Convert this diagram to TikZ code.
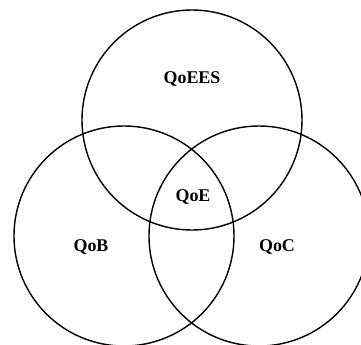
\documentclass[tikz,border=0pt]{standalone}
\usepackage{fontspec}
\setmainfont{Liberation Serif}
\begin{document}
\begin{tikzpicture}[x=1bp,y=-1bp,
    set/.style={line width=1.4bp},
    setlabel/.style={font=\fontsize{18}{20}\selectfont\bfseries}]
            \useasboundingbox (0,0) rectangle (361,345);
            \coordinate (E) at (192, 120);
            \coordinate (B) at (124, 236);
            \coordinate (C) at (259, 236);
            \draw[set] (E) circle (110bp);
            \draw[set] (B) circle (110bp);
            \draw[set] (C) circle (110bp);
            \node[setlabel] (qoees) at (192, 79) {QoEES};
            \node[setlabel] (qoe) at (193, 197) {QoE};
            \node[setlabel] (qob) at (91, 247) {QoB};
            \node[setlabel] (qoc) at (277, 247) {QoC};
        \end{tikzpicture}
\end{document}
